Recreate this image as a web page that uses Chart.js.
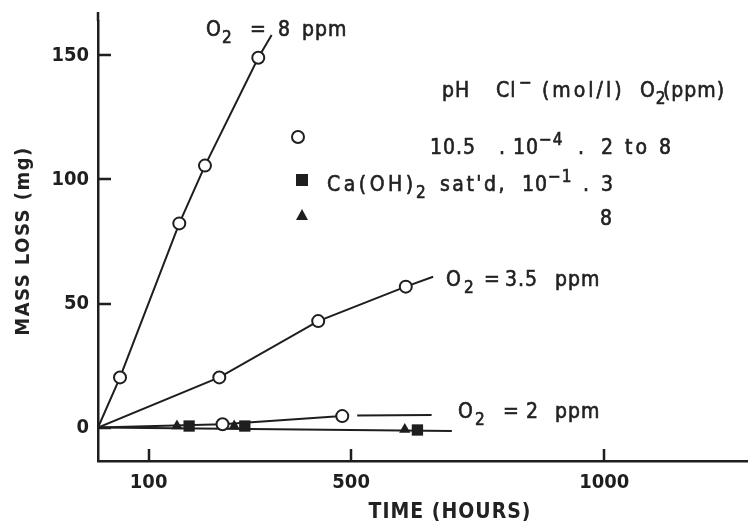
<!DOCTYPE html>
<html>
<head>
<meta charset="utf-8">
<script src="https://cdn.jsdelivr.net/npm/chart.js@4.4.0/dist/chart.umd.min.js"></script>
<style>
  html, body { margin: 0; padding: 0; background: #fff; }
</style>
</head>
<body>
<canvas id="myChart" width="748" height="532"></canvas>
<script>
// values: time (hours) vs mass loss (mg)
const xTicks = [100, 500, 1000];
const yTicks = [0, 50, 100, 150];

// 10.5 pH, O2 = 8 ppm (open circles)
const o2_8_hours = [43.5, 160.6, 211.3, 316.6];
const o2_8_mass = [20.2, 82.3, 105.6, 149.1];
const o2_8_end = [343, 158.3];

// O2 = 3.5 ppm
const o2_35_hours = [239.6, 435, 608];
const o2_35_mass = [20.2, 42.9, 56.8];
const o2_35_end = [662, 60.8];

// O2 = 2 ppm (line broken just after the last circle)
const o2_2_hours = [246, 482.5];
const o2_2_mass = [1.3, 4.6];
const o2_2_restart = [512, 4.8];
const o2_2_end = [659, 5.0];

// Ca(OH)2 sat'd: squares = 3 ppm, triangles = 8 ppm
const caSq_hours = [180, 290, 631];
const caSq_mass = [0.6, 0.6, -1.0];
const caTri_hours = [156, 269, 606];
const caTri_mass = [0.6, 0.6, -0.8];
const ca_end = [699, -1.4];

const INK = '#1e1e1e';

function pickFamily(list) {
  const c = document.createElement('canvas').getContext('2d');
  const probe = 'MASS LOSS (mg) 0123 ppm';
  for (const f of list) {
    c.font = `40px "${f}", monospace`;
    const a = c.measureText(probe).width;
    c.font = `40px "${f}", serif`;
    const b = c.measureText(probe).width;
    if (a === b) return f;
  }
  return 'DejaVu Sans';
}
const FAM = pickFamily(['DejaVu Sans Condensed', 'Liberation Sans Narrow', 'Roboto']);

const pts = (xs, ys) => xs.map((v, i) => ({ x: v, y: ys[i] }));
const pt = a => ({ x: a[0], y: a[1] });

const lineStyle = { showLine: true, borderColor: INK, borderWidth: 2, pointRadius: 0, fill: false, order: 2 };
const circleStyle = { showLine: false, pointStyle: 'circle', pointRadius: 6, pointBackgroundColor: '#fff',
  pointBorderColor: INK, pointBorderWidth: 2, order: 0 };

// text drawn as runs: [text, 'sub'|'sup'|0, optional x start, optional letter spacing]
function rich(ctx, y, runs, size) {
  let cx = 0;
  runs.forEach(([t, kind, at, ls]) => {
    if (at !== undefined && at !== null) cx = at;
    const s = kind ? Math.round(size * 0.8) : size;
    const dy = kind === 'sub' ? 7 : kind === 'sup' ? -9 : 0;
    ctx.font = `${s}px "${FAM}"`;
    ctx.letterSpacing = (ls || 1) + 'px';
    ctx.fillText(t, cx, y + dy);
    ctx.strokeText(t, cx, y + dy);
    cx += ctx.measureText(t).width;
  });
}

const notes = [
  { y: 36, runs: [['O', 0, 206], ['2', 'sub', 222], ['=', 0, 250], ['8', 0, 278], ['ppm', 0, 302]] },
  { y: 286, runs: [['O', 0, 446], ['2', 'sub', 464], ['=', 0, 484], ['3.5', 0, 505], ['ppm', 0, 555]] },
  { y: 418, runs: [['O', 0, 458], ['2', 'sub', 475], ['=', 0, 503], ['2', 0, 526], ['ppm', 0, 555]] },
  { y: 97, runs: [['pH', 0, 442], ['Cl', 0, 496], ['\u2212', 'sup', 519], ['(mol/l)', 0, 542, 3], ['O', 0, 640], ['2', 'sub'], ['(ppm)', 0, 663]] },
  { y: 154, runs: [['10.5', 0, 430], ['.', 0, 499], ['10', 0, 513], ['\u22124', 'sup'], ['.', 0, 578], ['2 to 8', 0, 601, 3]] },
  { y: 191, runs: [['Ca(OH)', 0, 327, 3.5], ['2', 'sub', 416], ["sat'd,", 0, 440, 2.5], ['10', 0, 522], ['\u22121', 'sup'], ['.', 0, 583], ['3', 0, 601]] },
  { y: 225, runs: [['8', 0, 600]] }
];

const decor = {
  id: 'decor',
  afterDraw(chart) {
    const { ctx, chartArea: area, scales: { x, y } } = chart;
    ctx.save();
    // inward tick marks, and the y axis line running up past the top of the plot
    ctx.strokeStyle = INK;
    ctx.lineWidth = 2.5;
    ctx.beginPath();
    ctx.moveTo(area.left, area.top);
    ctx.lineTo(area.left, 12);
    xTicks.forEach(v => {
      const px = Math.round(x.getPixelForValue(v));
      ctx.moveTo(px, area.bottom);
      ctx.lineTo(px, area.bottom - 12);
    });
    yTicks.forEach(v => {
      const py = Math.round(y.getPixelForValue(v));
      ctx.moveTo(area.left, py);
      ctx.lineTo(area.left + 13, py);
    });
    ctx.stroke();

    // legend symbols
    ctx.lineWidth = 2;
    ctx.fillStyle = '#fff';
    ctx.beginPath();
    ctx.arc(298, 137, 6, 0, Math.PI * 2);
    ctx.fill();
    ctx.stroke();
    ctx.fillStyle = INK;
    ctx.fillRect(296, 174, 12, 12);
    ctx.beginPath();
    ctx.moveTo(302, 209);
    ctx.lineTo(308, 220);
    ctx.lineTo(296, 220);
    ctx.closePath();
    ctx.fill();

    // annotations and legend text
    ctx.fillStyle = '#222';
    ctx.strokeStyle = '#222';
    ctx.lineWidth = 0.6;
    ctx.textAlign = 'left';
    ctx.textBaseline = 'alphabetic';
    notes.forEach(n => rich(ctx, n.y, n.runs, 21));

    // axis titles
    ctx.textAlign = 'center';
    ctx.textBaseline = 'middle';
    ctx.letterSpacing = '1px';
    ctx.font = `bold 21px "${FAM}"`;
    ctx.fillText('TIME (HOURS)', 450, 513);
    ctx.translate(24, 241);
    ctx.rotate(-Math.PI / 2);
    ctx.letterSpacing = '1.5px';
    ctx.font = `bold 20px "${FAM}"`;
    ctx.fillText('MASS LOSS (mg)', 0, 0);
    ctx.restore();
  }
};

const ctx = document.getElementById('myChart').getContext('2d');
const myChart = new Chart(ctx, {
  type: 'scatter',
  data: {
    datasets: [
      { label: 'O2 = 8 ppm', data: pts(o2_8_hours, o2_8_mass), ...circleStyle },
      { label: 'O2 = 3.5 ppm', data: pts(o2_35_hours, o2_35_mass), ...circleStyle },
      { label: 'O2 = 2 ppm', data: pts(o2_2_hours, o2_2_mass), ...circleStyle },
      { label: 'Ca(OH)2, 3 ppm', data: pts(caSq_hours, caSq_mass), showLine: false, pointStyle: 'rect',
        pointRadius: 8, pointBackgroundColor: INK, pointBorderColor: INK, pointBorderWidth: 0, order: 0 },
      { label: 'Ca(OH)2, 8 ppm', data: pts(caTri_hours, caTri_mass), showLine: false, pointStyle: 'triangle',
        pointRadius: 6.5, pointBackgroundColor: INK, pointBorderColor: INK, pointBorderWidth: 0, order: 0 },
      { label: 'fit 8', data: [{ x: 0, y: 0 }, ...pts(o2_8_hours, o2_8_mass), pt(o2_8_end)], ...lineStyle },
      { label: 'fit 3.5', data: [{ x: 0, y: 0 }, ...pts(o2_35_hours, o2_35_mass), pt(o2_35_end)], ...lineStyle },
      { label: 'fit 2', data: [{ x: 0, y: 0 }, ...pts(o2_2_hours, o2_2_mass), { x: 495, y: null }, pt(o2_2_restart), pt(o2_2_end)], ...lineStyle },
      { label: 'fit Ca', data: [{ x: 0, y: 0 }, pt(ca_end)], ...lineStyle }
    ]
  },
  options: {
    responsive: false,
    animation: false,
    devicePixelRatio: 1,
    layout: { autoPadding: false, padding: { top: 3, right: 0, left: 0, bottom: 0 } },
    plugins: { legend: { display: false }, tooltip: { enabled: false } },
    scales: {
      x: {
        type: 'linear', min: 0, max: 1284,
        border: { display: true, color: INK, width: 2.5 },
        grid: { drawOnChartArea: false, drawTicks: false },
        ticks: { color: INK, font: { family: FAM, size: 20, weight: 'bold' }, padding: 10, maxRotation: 0,
          callback: v => String(v) },
        afterBuildTicks: s => { s.ticks = xTicks.map(v => ({ value: v })); },
        afterFit: s => { s.height = 532 - 461; }
      },
      y: {
        type: 'linear', min: -13.5, max: 163.9,
        border: { display: true, color: INK, width: 2.5 },
        grid: { drawOnChartArea: false, drawTicks: false },
        ticks: { color: INK, font: { family: FAM, size: 20, weight: 'bold' }, padding: 9,
          callback: v => String(v) },
        afterBuildTicks: s => { s.ticks = yTicks.map(v => ({ value: v })); },
        afterFit: s => { s.width = 98; }
      }
    }
  },
  plugins: [decor]
});
</script>
</body>
</html>
